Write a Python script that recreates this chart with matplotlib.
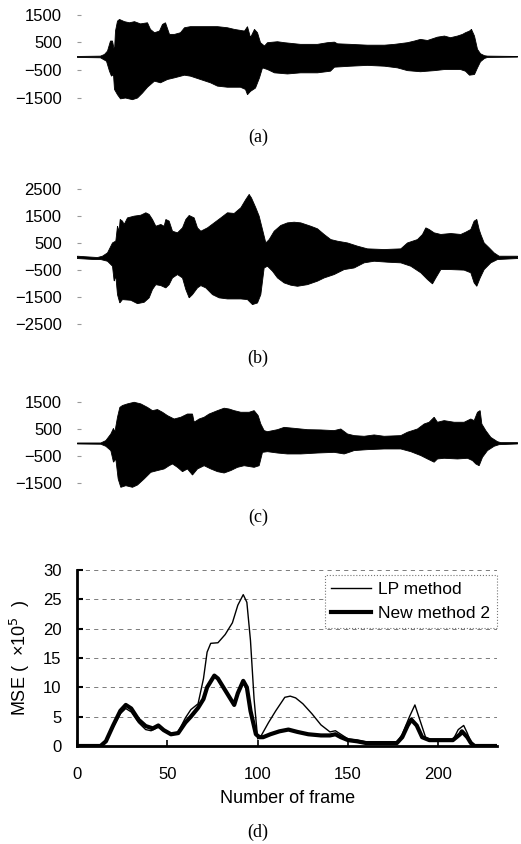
import numpy as np
import matplotlib
matplotlib.use("Agg")
import matplotlib.pyplot as plt

plt.rcParams['font.family'] = ['Liberation Sans', 'DejaVu Sans']

# waveform envelopes (time in display units 0..440, amplitude)
t_a = [0, 23, 27, 30, 33, 35, 37, 38, 40, 42, 47, 52, 57, 63, 70, 73, 77, 82, 85, 88,
       92, 97, 103, 107, 113, 123, 140, 150, 157, 167, 170, 173, 177, 180, 183, 187, 190,
       200, 207, 223, 240, 250, 257, 260, 273, 290, 307, 317, 330, 337, 343, 350, 360,
       367, 373, 380, 385, 388, 392, 394, 397, 400, 403, 407, 410, 440]
up_a = [12, 24, 85, 206, 570, 570, 206, 930, 1290, 1350, 1270, 1230, 1270, 1190, 1230,
        990, 870, 930, 1170, 1230, 810, 810, 870, 1050, 1090, 1090, 1090, 1050, 990, 930,
        1090, 690, 990, 870, 510, 390, 510, 545, 510, 450, 450, 510, 530, 470, 450, 420,
        420, 450, 510, 570, 630, 590, 710, 750, 690, 750, 810, 870, 930, 990, 750, 270,
        110, 40, 25, 12]
tl_a = [0, 23, 29, 32, 34, 36, 37, 40, 43, 48, 55, 60, 65, 70, 77, 83, 90, 97, 107, 113,
        123, 133, 140, 150, 163, 168, 170, 173, 178, 182, 185, 190, 197, 210, 223, 240,
        253, 257, 273, 290, 307, 320, 330, 343, 357, 367, 383, 388, 392, 397, 400, 403,
        407, 410, 440]
lo_a = [-24, -36, -160, -520, -700, -640, -1180, -1370, -1520, -1490, -1550, -1490,
        -1310, -1100, -880, -940, -820, -760, -665, -700, -820, -940, -1060, -1100, -1100,
        -1180, -1370, -1250, -1130, -760, -400, -460, -580, -620, -580, -580, -520, -375,
        -340, -310, -340, -400, -500, -540, -500, -460, -460, -520, -665, -640, -400,
        -180, -60, -24, -12]

zx_bu = [230, 260, 290, 305, 320, 335, 345, 350, 355, 358, 365, 370, 380, 400, 420, 435,
         445, 455, 465, 480, 490, 495, 505, 515, 530, 545, 555, 565, 580, 590, 600, 620,
         640, 660, 680, 700, 720, 735, 745, 752, 765, 775, 785, 795, 805, 820, 840, 860,
         880, 900, 930, 950, 970, 990, 1010, 1040, 1070, 1100, 1150, 1200, 1220, 1250,
         1265, 1275, 1285, 1300, 1320, 1350, 1380, 1395, 1410, 1420, 1428, 1435, 1440,
         1450, 1465, 1480, 1495, 1550]
up_b = [37, 12, -12, 37, 160, 530, 600, 1150, 960, 1400, 1340, 1215, 1460, 1525, 1560,
        1650, 1590, 1400, 1150, 1215, 1150, 1400, 1340, 965, 905, 1090, 1400, 1550, 1460,
        1090, 965, 1090, 1275, 1460, 1650, 1625, 1835, 2145, 2330, 2200, 1835, 1525, 1030,
        530, 655, 965, 1180, 1275, 1300, 1275, 1150, 1055, 845, 655, 595, 530, 410, 310,
        285, 310, 530, 655, 845, 1090, 1030, 905, 845, 880, 845, 930, 1030, 1340, 1400,
        1030, 845, 530, 350, 160, 37, 37]
zx_bl = [230, 280, 300, 320, 335, 340, 345, 350, 357, 365, 390, 410, 430, 445, 455, 465,
         480, 495, 505, 515, 530, 545, 555, 565, 575, 590, 600, 615, 635, 655, 680, 720,
         740, 755, 770, 780, 790, 800, 815, 830, 850, 870, 890, 920, 950, 970, 1000, 1030,
         1060, 1090, 1120, 1160, 1200, 1230, 1260, 1280, 1295, 1305, 1320, 1350, 1390,
         1410, 1420, 1428, 1438, 1450, 1470, 1490, 1550]
lo_b = [-50, -87, -87, -150, -335, -890, -700, -1390, -1700, -1575, -1600, -1725, -1675,
        -1510, -1200, -1020, -1055, -1140, -1020, -770, -645, -770, -1200, -1510, -1390,
        -1140, -1055, -1140, -1390, -1510, -1550, -1550, -1575, -1760, -1700, -1390, -400,
        -335, -520, -770, -955, -1040, -1080, -1020, -890, -770, -645, -460, -400, -210,
        -150, -185, -210, -335, -580, -830, -990, -770, -460, -460, -480, -580, -955,
        -1080, -770, -460, -210, -87, -50]

zx_cu = [230, 300, 315, 330, 338, 342, 350, 357, 365, 380, 400, 420, 440, 455, 470, 485,
         500, 520, 540, 560, 575, 580, 595, 610, 625, 650, 670, 685, 700, 720, 745, 760,
         772, 780, 790, 800, 830, 850, 880, 920, 960, 1000, 1020, 1040, 1060, 1090, 1120,
         1150, 1200, 1220, 1250, 1270, 1285, 1300, 1310, 1330, 1360, 1390, 1410, 1420,
         1430, 1438, 1443, 1455, 1470, 1490, 1500, 1550]
up_c = [12, 12, 100, 345, 555, 405, 965, 1330, 1400, 1460, 1520, 1460, 1330, 1210, 1250,
        1150, 1025, 900, 965, 1085, 1085, 780, 900, 965, 1085, 1210, 1300, 1270, 1210,
        1150, 1150, 1210, 1025, 715, 470, 430, 505, 590, 555, 505, 495, 470, 530, 345, 285,
        260, 310, 260, 285, 410, 530, 715, 780, 965, 780, 840, 780, 780, 900, 840, 1150,
        1210, 715, 470, 220, 60, 25, 25]
zx_cl = [230, 300, 315, 330, 338, 345, 352, 360, 375, 395, 410, 430, 450, 470, 490, 505,
         515, 530, 545, 560, 575, 590, 610, 630, 650, 670, 690, 710, 730, 760, 775, 785,
         800, 830, 860, 900, 950, 1000, 1030, 1045, 1060, 1100, 1150, 1200, 1230, 1260,
         1280, 1300, 1310, 1330, 1370, 1400, 1415, 1425, 1435, 1445, 1460, 1480, 1495,
         1550]
lo_c = [-25, -35, -110, -270, -700, -580, -1320, -1630, -1570, -1630, -1545, -1320,
        -1075, -1010, -950, -830, -765, -890, -1050, -950, -1175, -950, -830, -950, -1050,
        -1100, -1010, -890, -830, -890, -830, -335, -310, -360, -395, -395, -360, -335,
        -395, -335, -270, -235, -210, -210, -310, -455, -580, -700, -580, -555, -580, -555,
        -640, -765, -830, -520, -270, -110, -50, -25]

# MSE per frame
frame_lp = [0, 13, 16, 20, 24, 27, 30, 34, 38, 41, 45, 48, 52, 56, 60, 63, 67, 70, 72,
            74, 78, 82, 86, 89, 92, 94, 96, 98, 100, 102, 106, 110, 115, 118, 121, 125,
            130, 135, 140, 143, 146, 150, 155, 160, 170, 177, 180, 184, 187, 190, 193,
            197, 208, 211, 214, 216, 218, 221, 232]
mse_lp = [0, 0, 0.8, 3.2, 5.5, 6.4, 5.8, 4.0, 2.8, 2.6, 3.2, 2.6, 2.0, 2.4, 4.8, 6.2,
          7.2, 11.5, 16.0, 17.5, 17.6, 19.0, 21.0, 24.0, 25.8, 24.5, 18.0, 8.0, 1.2, 1.8,
          4.0, 6.0, 8.3, 8.5, 8.2, 7.2, 5.5, 3.6, 2.4, 2.6, 2.0, 1.2, 1.0, 0.7, 0.7, 0.6,
          2.0, 5.0, 7.0, 4.2, 1.4, 1.0, 1.0, 2.8, 3.5, 2.2, 0.6, 0, 0]
frame_new = [0, 13, 16, 20, 24, 27, 30, 34, 38, 42, 45, 48, 52, 56, 60, 63, 67, 70, 72,
             74, 76, 78, 81, 84, 87, 89, 92, 94, 96, 99, 101, 103, 107, 112, 117, 122,
             128, 135, 140, 143, 146, 150, 155, 160, 170, 177, 180, 183, 185, 188, 191,
             195, 208, 212, 213, 216, 218, 220, 232]
mse_new = [0, 0, 0.8, 3.5, 6.0, 7.0, 6.4, 4.5, 3.4, 3.0, 3.5, 2.7, 2.0, 2.2, 4.0, 5.0,
           6.5, 8.0, 10.0, 11.0, 12.0, 11.5, 10.0, 8.5, 7.0, 9.0, 11.1, 10.0, 6.0, 2.0,
           1.5, 1.5, 2.0, 2.5, 2.8, 2.4, 2.0, 1.8, 1.8, 2.0, 1.5, 1.0, 0.8, 0.5, 0.5, 0.5,
           1.5, 3.5, 4.5, 3.5, 1.5, 1.0, 1.0, 2.0, 2.5, 1.5, 0.5, 0, 0]

fig = plt.figure(figsize=(5.21, 8.44), dpi=100)
W, H = 521.0, 844.0


def px_axes(x0, y0, x1, y1):
    return fig.add_axes([x0 / W, 1 - y1 / H, (x1 - x0) / W, (y1 - y0) / H])


def zx_to_t(zx):
    return [(v - 230) / 3.0 for v in zx]


def wave_panel(ax, tu, up, tl, lo, ticks, lim):
    tt = np.linspace(0, 440, 2000)
    ax.fill_between(tt, np.interp(tt, tl, lo), np.interp(tt, tu, up),
                    color='black', lw=0.6)
    ax.set_xlim(0, 440)
    ax.set_ylim(-lim, lim)
    for s in ax.spines.values():
        s.set_visible(False)
    ax.set_xticks([])
    ax.set_yticks(ticks)
    ax.tick_params(axis='y', direction='in', length=3, color='#999999',
                   pad=11, labelsize=12)


ax1 = px_axes(77, 6.5, 517, 106.1)
wave_panel(ax1, t_a, up_a, tl_a, lo_a, [1500, 500, -500, -1500], 1800)
ax2 = px_axes(77, 184.0, 517, 329.4)
wave_panel(ax2, zx_to_t(zx_bu), up_b, zx_to_t(zx_bl), lo_b,
           [2500, 1500, 500, -500, -1500, -2500], 2700)
ax3 = px_axes(77, 394.2, 517, 491.4)
wave_panel(ax3, zx_to_t(zx_cu), up_c, zx_to_t(zx_cl), lo_c,
           [1500, 500, -500, -1500], 1800)

# MSE panel
ax4 = px_axes(77, 570, 497.3, 746)
ax4.plot(frame_lp, mse_lp, color='black', lw=1.0, label='LP method')
ax4.plot(frame_new, mse_new, color='black', lw=3.0, label='New method 2')
ax4.set_xlim(0, 232.6)
ax4.set_ylim(0, 30)
ax4.set_xticks([0, 50, 100, 150, 200])
ax4.set_yticks([0, 5, 10, 15, 20, 25, 30])
for y in [5, 10, 15, 20, 25, 30]:
    ax4.axhline(y, color='#666666', lw=0.6, ls=(0, (5, 5)), zorder=0)
ax4.spines['top'].set_visible(False)
ax4.spines['right'].set_visible(False)
ax4.spines['left'].set_linewidth(2.0)
ax4.spines['bottom'].set_linewidth(2.0)
ax4.tick_params(axis='x', direction='in', length=4, width=1.2, pad=15, labelsize=12)
ax4.tick_params(axis='y', direction='in', length=4, width=1.5, pad=11, labelsize=12)
ax4.set_xlabel('Number of frame', fontsize=13, labelpad=6)
ax4.set_ylabel('MSE (  ×10$^5$  )', fontsize=13, labelpad=8)
leg = ax4.legend(loc='upper right', bbox_to_anchor=(1.0, 0.972), borderaxespad=0,
                 fontsize=12.5, handlelength=2.3, handletextpad=0.4,
                 labelspacing=0.5, fancybox=False, framealpha=1)
leg.get_frame().set_edgecolor('#777777')
leg.get_frame().set_linestyle(':')
leg.get_frame().set_linewidth(0.8)

for lbl, y in [('(a)', 137), ('(b)', 358.5), ('(c)', 517), ('(d)', 832)]:
    fig.text(258 / W, 1 - y / H, lbl, ha='center', va='center',
             family='Liberation Serif', fontsize=13)

fig.savefig('out.png', dpi=100, facecolor='white')
